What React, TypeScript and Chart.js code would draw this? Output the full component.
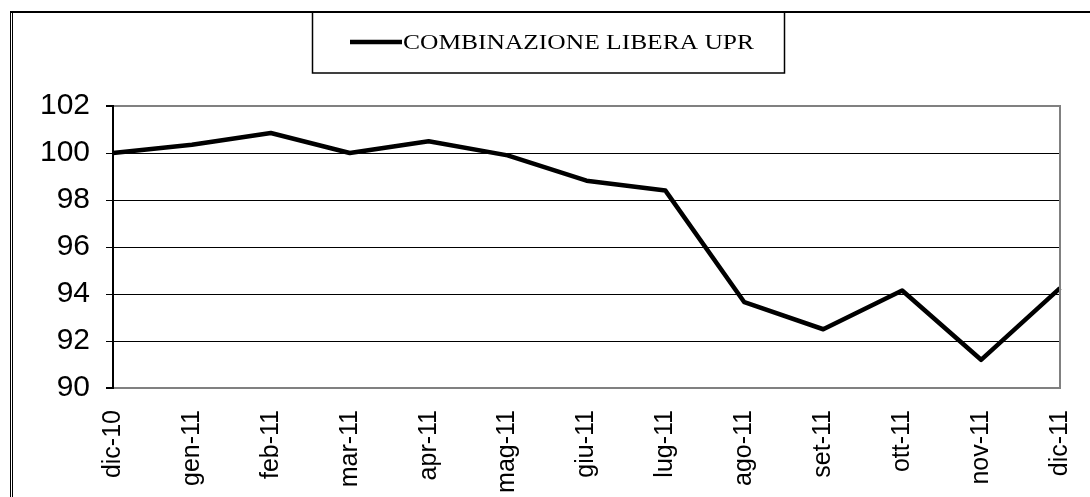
import React, { useEffect, useRef } from "react";
import { Chart, registerables } from "chart.js";

Chart.register(...registerables);

const categories = [
  "dic-10", "gen-11", "feb-11", "mar-11", "apr-11", "mag-11", "giu-11",
  "lug-11", "ago-11", "set-11", "ott-11", "nov-11", "dic-11",
];
const seriesLabel = "COMBINAZIONE LIBERA UPR";
const seriesValues = [
  100.0, 100.35, 100.85, 100.0, 100.5, 99.9, 98.82, 98.4, 93.65, 92.5, 94.15, 91.2, 94.25,
];
const yMin = 90;
const yMax = 102;
const yStep = 2;

const framePlugin = {
  id: "frameAndLegend",
  afterDraw(chart: any) {
    const ctx = chart.ctx as CanvasRenderingContext2D;
    const area = chart.chartArea;
    ctx.save();
    // right border of plot area (gray)
    ctx.strokeStyle = "#808080";
    ctx.lineWidth = 2;
    ctx.beginPath();
    ctx.moveTo(area.right, area.top - 1);
    ctx.lineTo(area.right, area.bottom + 1);
    ctx.stroke();

    // outer frame: top thick line and left double line
    ctx.strokeStyle = "#000";
    ctx.lineWidth = 2;
    ctx.beginPath();
    ctx.moveTo(10, 12);
    ctx.lineTo(1090, 12);
    ctx.stroke();
    ctx.lineWidth = 1;
    ctx.beginPath();
    ctx.moveTo(10.5, 12);
    ctx.lineTo(10.5, 497);
    ctx.moveTo(12.5, 12);
    ctx.lineTo(12.5, 497);
    ctx.stroke();

    // legend box
    ctx.lineWidth = 1.5;
    ctx.strokeRect(312.5, 12, 472, 61);
    // legend line sample
    ctx.lineWidth = 4.5;
    ctx.beginPath();
    ctx.moveTo(350, 42);
    ctx.lineTo(402, 42);
    ctx.stroke();
    // legend text
    ctx.fillStyle = "#000";
    ctx.font = "21px 'Liberation Serif', 'Times New Roman', serif";
    ctx.textBaseline = "alphabetic";
    const w = ctx.measureText(seriesLabel).width;
    const target = 351;
    ctx.translate(403, 49);
    ctx.scale(target / w, 1);
    ctx.fillText(seriesLabel, 0, 0);
    ctx.restore();
  },
};

export default function App() {
  const canvasRef = useRef<HTMLCanvasElement | null>(null);

  useEffect(() => {
    const canvas = canvasRef.current;
    if (!canvas) return;
    const chart = new Chart(canvas, {
      type: "line",
      data: {
        labels: categories,
        datasets: [
          {
            label: seriesLabel,
            data: seriesValues,
            borderColor: "#000",
            borderWidth: 4.5,
            pointRadius: 0,
            tension: 0,
            fill: false,
            borderJoinStyle: "round",
          },
        ],
      },
      options: {
        animation: false,
        responsive: false,
        maintainAspectRatio: false,
        events: [],
        layout: { padding: { top: 106, right: 30, left: 0, bottom: 0 } },
        plugins: {
          legend: { display: false },
          tooltip: { enabled: false },
          title: { display: false },
        },
        scales: {
          x: {
            offset: false,
            grid: { display: false },
            border: { display: true, color: "#808080", width: 2 },
            ticks: {
              autoSkip: false,
              minRotation: 90,
              maxRotation: 90,
              padding: 14,
              color: "#000",
              font: { family: "'Liberation Sans', Arial, sans-serif", size: 25 },
            },
            afterFit: (scale: any) => {
              scale.height = 109;
              scale.paddingLeft = 0;
              scale.paddingRight = 0;
            },
          },
          y: {
            min: yMin,
            max: yMax,
            ticks: {
              stepSize: yStep,
              padding: 16,
              color: "#000",
              font: { family: "'Liberation Sans', Arial, sans-serif", size: 30 },
            },
            grid: {
              color: (c: any) =>
                c.tick && (c.tick.value === yMax || c.tick.value === yMin) ? "#808080" : "#000",
              lineWidth: (c: any) =>
                c.tick && (c.tick.value === yMax || c.tick.value === yMin) ? 2 : 1,
              tickColor: "#000",
              tickLength: 7,
              drawTicks: true,
            },
            border: { display: true, color: "#000", width: 2 },
            afterFit: (scale: any) => {
              scale.width = 113;
              scale.paddingTop = 0;
              scale.paddingBottom = 0;
            },
          },
        },
      },
      plugins: [framePlugin],
    });
    return () => chart.destroy();
  }, []);

  return (
    <div style={{ position: "fixed", left: 0, top: 0, width: 1090, height: 497, background: "#fff" }}>
      <canvas ref={canvasRef} width={1090} height={497} style={{ width: 1090, height: 497, display: "block" }} />
    </div>
  );
}
